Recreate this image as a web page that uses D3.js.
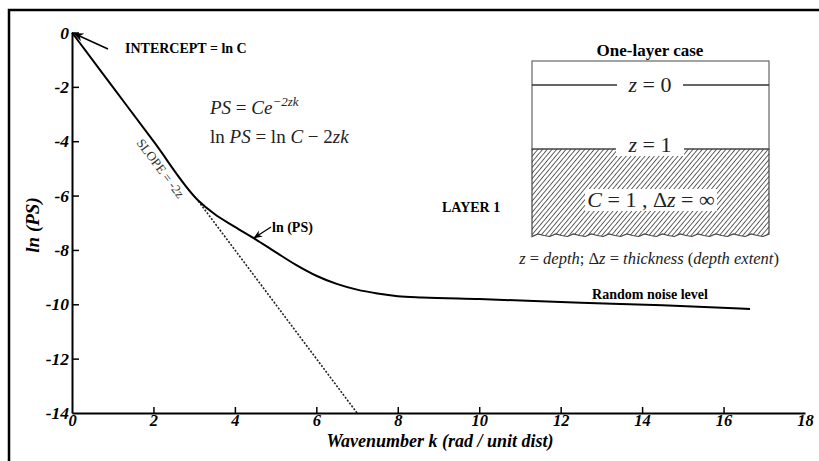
<!DOCTYPE html>
<html>
<head>
<meta charset="utf-8">
<script src="https://cdn.jsdelivr.net/npm/d3@7"></script>
<style>
  body { margin: 0; background: #fff; }
  text { font-family: "Liberation Serif", "Times New Roman", serif; }
</style>
</head>
<body>
<script>
// the canvas size
var width = 819
var height = 461

// ln(PS) curve
const waveK = [0, 1, 2, 3.1, 3.5, 4.0, 4.5, 5.0, 5.5, 6.0, 6.5, 7.0, 7.5, 8.0, 8.6, 10, 12.5, 14.5, 16.65]
const lnPS  = [0, -2, -4, -6.18, -6.68, -7.15, -7.6, -8.08, -8.55, -8.95, -9.25, -9.46, -9.6, -9.7, -9.75, -9.81, -9.94, -10.04, -10.17]

// dotted slope line (slope = -2z, z = 1)
const slopeK = [3.1, 7]
const slopeY = [-6.2, -14]

const xTicks = [0, 2, 4, 6, 8, 10, 12, 14, 16, 18]
const yTicks = [0, -2, -4, -6, -8, -10, -12, -14]

const svg = d3.select('body').append('svg')
  .attr('width', width)
  .attr('height', height)

// outer frame (only top and left show)
svg.append('rect')
  .attr('x', 9).attr('y', 10)
  .attr('width', width).attr('height', height)
  .style('fill', 'none').style('stroke', '#000').style('stroke-width', 2.5)

var x = d3.scaleLinear().domain([0, 18]).range([72, 805])
var y = d3.scaleLinear().domain([-14, 0]).range([413, 32.5])

var tickFont = function(g, size){
  g.selectAll('text')
    .style('font-family', '"Liberation Serif", serif')
    .style('font-weight', 'bold')
    .style('font-style', 'italic')
    .style('font-size', size + 'px')
    .style('fill', '#000')
  g.select('.domain').style('stroke-width', 2)
  g.selectAll('.tick line').style('stroke-width', 1.5)
}

svg.append('g')
  .attr('transform', 'translate(0,' + y(-14) + ')')
  .call(d3.axisBottom(x).tickValues(xTicks).tickFormat(d => String(d))
    .tickSizeInner(-6).tickSizeOuter(0).tickPadding(1.5))
  .call(tickFont, 16.5)
  .call(g => g.selectAll('.tick').filter(d => d == 0 || d == 18).select('line').remove())

svg.append('g')
  .attr('transform', 'translate(' + x(0) + ',0)')
  .call(d3.axisLeft(y).tickValues(yTicks).tickFormat(d => String(d))
    .tickSizeInner(-7).tickSizeOuter(0).tickPadding(3))
  .call(tickFont, 17.5)
  .call(g => g.selectAll('.tick').filter(d => d == -14).select('line').remove())

// axis titles
svg.append('text')
  .attr('x', 440).attr('y', 447)
  .attr('text-anchor', 'middle')
  .style('font-weight', 'bold').style('font-style', 'italic').style('font-size', '18px')
  .text('Wavenumber k (rad / unit dist)')

svg.append('text')
  .attr('transform', 'translate(39,225) rotate(-90)')
  .attr('text-anchor', 'middle')
  .style('font-weight', 'bold').style('font-style', 'italic').style('font-size', '19px')
  .text('ln (PS)')

// slope line (dotted)
var slopeData = slopeK.map((k, i) => ({k: k, v: slopeY[i]}))
svg.append('path')
  .datum(slopeData)
  .attr('d', d3.line().x(d => x(d.k)).y(d => y(d.v)))
  .style('fill', 'none').style('stroke', '#222').style('stroke-width', 1.6)
  .style('stroke-dasharray', '2,1.6')

// ln(PS) curve
var curveData = waveK.map((k, i) => ({k: k, v: lnPS[i]}))
svg.append('path')
  .datum(curveData)
  .attr('d', d3.line().x(d => x(d.k)).y(d => y(d.v)).curve(d3.curveMonotoneX))
  .style('fill', 'none').style('stroke', '#000').style('stroke-width', 2)

// arrow marker
svg.append('defs').append('marker')
  .attr('id', 'arr').attr('viewBox', '0 0 10 10')
  .attr('refX', 9).attr('refY', 5)
  .attr('markerWidth', 7).attr('markerHeight', 7)
  .attr('orient', 'auto')
  .append('path').attr('d', 'M0,1 L10,5 L0,9 L3,5 Z').style('fill', '#000')

// intercept annotation
svg.append('line')
  .attr('x1', 108).attr('y1', 49).attr('x2', x(0) + 2).attr('y2', y(0) + 1)
  .style('stroke', '#000').style('stroke-width', 1.5).attr('marker-end', 'url(#arr)')
svg.append('text')
  .attr('x', 125).attr('y', 53)
  .style('font-weight', 'bold').style('font-size', '14px')
  .text('INTERCEPT = ln C')

// ln (PS) annotation
svg.append('line')
  .attr('x1', 271).attr('y1', 227).attr('x2', 254).attr('y2', 238)
  .style('stroke', '#000').style('stroke-width', 1.3).attr('marker-end', 'url(#arr)')
svg.append('text')
  .attr('x', 272).attr('y', 232)
  .style('font-weight', 'bold').style('font-size', '14px')
  .text('ln (PS)')

// slope label
svg.append('text')
  .attr('transform', 'translate(136,143) rotate(53)')
  .style('font-size', '13px').style('fill', '#333')
  .text('SLOPE = -2z')

// equations
var eq1 = svg.append('text')
  .attr('x', 210).attr('y', 114)
  .style('font-size', '19px').style('fill', '#222')
eq1.append('tspan').style('font-style', 'italic').text('PS')
eq1.append('tspan').text(' = ')
eq1.append('tspan').style('font-style', 'italic').text('Ce')
eq1.append('tspan').attr('dy', -8).style('font-size', '13px').style('font-style', 'italic').text('−2zk')

var eq2 = svg.append('text')
  .attr('x', 210).attr('y', 143)
  .style('font-size', '19px').style('fill', '#222')
eq2.append('tspan').text('ln ')
eq2.append('tspan').style('font-style', 'italic').text('PS')
eq2.append('tspan').text(' = ln ')
eq2.append('tspan').style('font-style', 'italic').text('C')
eq2.append('tspan').text(' − 2')
eq2.append('tspan').style('font-style', 'italic').text('zk')

// LAYER 1 and noise level labels
svg.append('text')
  .attr('x', 442).attr('y', 212)
  .style('font-weight', 'bold').style('font-size', '14px')
  .text('LAYER 1')

svg.append('text')
  .attr('x', 650).attr('y', 299)
  .attr('text-anchor', 'middle')
  .style('font-weight', 'bold').style('font-size', '14px')
  .text('Random noise level')

// ---- inset: one-layer case ----
var box = {x0: 532, x1: 769, top: 61, z0: 85, z1: 149, bottom: 235}

var pat = svg.select('defs').append('pattern')
  .attr('id', 'hatch').attr('patternUnits', 'userSpaceOnUse')
  .attr('width', 3.6).attr('height', 3.6)
  .attr('patternTransform', 'rotate(40)')
pat.append('line')
  .attr('x1', 0).attr('y1', 0).attr('x2', 0).attr('y2', 3.6)
  .style('stroke', '#222').style('stroke-width', 1.4)

svg.append('text')
  .attr('x', 650).attr('y', 56)
  .attr('text-anchor', 'middle')
  .style('font-weight', 'bold').style('font-size', '17px')
  .text('One-layer case')

svg.append('rect')
  .attr('x', box.x0).attr('y', box.top)
  .attr('width', box.x1 - box.x0).attr('height', box.z1 - box.top)
  .style('fill', '#fff').style('stroke', '#666').style('stroke-width', 1.2)

// hatched half-space with a rough bottom edge
var rough = d3.range(box.x0, box.x1 + 0.1, (box.x1 - box.x0) / 40)
var roughPts = rough.map((px, i) => [px, box.bottom + (i % 3 == 0 ? 1.5 : (i % 3 == 1 ? -1 : 0.5))])
var hatchPath = 'M' + box.x0 + ',' + box.z1 + 'L' + box.x1 + ',' + box.z1 +
  roughPts.slice().reverse().map(p => 'L' + p[0] + ',' + p[1]).join('') + 'Z'
svg.append('path')
  .attr('d', hatchPath)
  .style('fill', 'url(#hatch)').style('stroke', '#444').style('stroke-width', 1.2)

svg.append('line')
  .attr('x1', box.x0).attr('x2', box.x1).attr('y1', box.z0).attr('y2', box.z0)
  .style('stroke', '#333').style('stroke-width', 1.5)

var inLabel = function(cx, cy, w, h, build){
  svg.append('rect')
    .attr('x', cx - w/2).attr('y', cy - h/2).attr('width', w).attr('height', h)
    .style('fill', '#fff')
  var t = svg.append('text')
    .attr('x', cx).attr('y', cy + 7)
    .attr('text-anchor', 'middle')
    .style('font-size', '22px').style('fill', '#222')
  build(t)
}

inLabel(650, 85, 66, 22, t => {
  t.append('tspan').style('font-style', 'italic').text('z')
  t.append('tspan').text(' = 0')
})
inLabel(650, 145, 68, 22, t => {
  t.append('tspan').style('font-style', 'italic').text('z')
  t.append('tspan').text(' = 1')
})
inLabel(651, 200, 132, 22, t => {
  t.append('tspan').style('font-style', 'italic').text('C')
  t.append('tspan').text(' = 1 , Δ')
  t.append('tspan').style('font-style', 'italic').text('z')
  t.append('tspan').text(' = ∞')
})

var cap = svg.append('text')
  .attr('x', 649).attr('y', 264)
  .attr('text-anchor', 'middle')
  .style('font-size', '16.5px').style('fill', '#222')
cap.append('tspan').style('font-style', 'italic').text('z')
cap.append('tspan').text(' = ')
cap.append('tspan').style('font-style', 'italic').text('depth')
cap.append('tspan').text('; Δ')
cap.append('tspan').style('font-style', 'italic').text('z')
cap.append('tspan').text(' = ')
cap.append('tspan').style('font-style', 'italic').text('thickness')
cap.append('tspan').text(' (')
cap.append('tspan').style('font-style', 'italic').text('depth extent')
cap.append('tspan').text(')')
</script>
</body>
</html>
